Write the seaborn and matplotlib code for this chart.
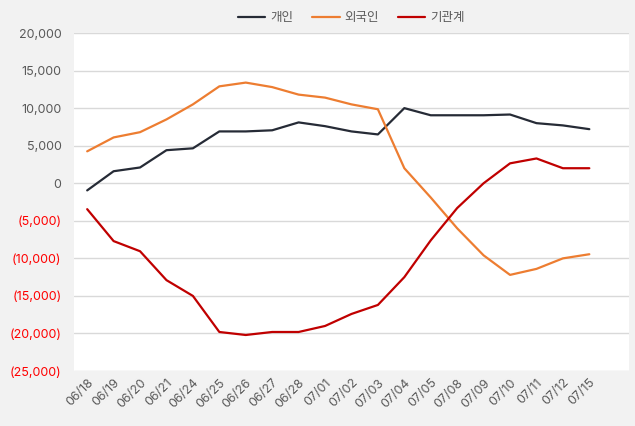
import matplotlib
matplotlib.use("Agg")
import matplotlib.pyplot as plt
import seaborn as sns
import pandas as pd
from matplotlib.ticker import FuncFormatter

dates = ["06/18", "06/19", "06/20", "06/21", "06/24", "06/25", "06/26", "06/27", "06/28",
         "07/01", "07/02", "07/03", "07/04", "07/05", "07/08", "07/09", "07/10", "07/11",
         "07/12", "07/15"]
individual = [-950, 1600, 2100, 4400, 4650, 6900, 6900, 7050, 8100, 7600, 6900, 6500,
              10000, 9050, 9050, 9050, 9150, 8000, 7700, 7200]
foreign = [4250, 6100, 6800, 8500, 10500, 12900, 13400, 12800, 11800, 11400, 10500, 9850,
           2000, -1900, -6000, -9600, -12200, -11400, -10000, -9450]
institution = [-3450, -7700, -9050, -12900, -15000, -19800, -20200, -19800, -19800, -19000,
               -17400, -16200, -12500, -7600, -3300, 0, 2650, 3300, 2000, 2000]
series_names = ["개인", "외국인", "기관계"]
colors = ["#262b36", "#ed7d31", "#c00000"]

rows = []
for name, vals in zip(series_names, [individual, foreign, institution]):
    for i, (d, v) in enumerate(zip(dates, vals)):
        rows.append({"idx": i, "date": d, "value": v, "series": name})
df = pd.DataFrame(rows)

sns.set_theme(style="white")
plt.rcParams['font.family'] = ['Inter', 'Noto Sans CJK KR', 'DejaVu Sans']

fig = plt.figure(figsize=(6.35, 4.26), dpi=100, facecolor="#f2f2f2")
ax = fig.add_axes([0.1165, 0.129, 0.874, 0.7935])
ax.set_facecolor("white")

sns.lineplot(data=df, x="idx", y="value", hue="series", hue_order=series_names,
             palette=colors, linewidth=1.6, ax=ax, legend=True)

ax.set_xlim(-0.5, 20.5)
ax.set_ylim(-25000, 20000)
ax.set_yticks(range(-25000, 20001, 5000))
ax.yaxis.set_major_formatter(FuncFormatter(
    lambda v, p: f"{int(v):,}" if v >= 0 else f"({int(-v):,})"))
ax.set_xticks(range(len(dates)))
ax.set_xticklabels(dates, rotation=45, ha="right", rotation_mode="anchor")
ax.grid(axis="y", color="#d9d9d9", linewidth=1)
ax.set_axisbelow(True)
for s in ax.spines.values():
    s.set_visible(False)
ax.tick_params(axis="both", length=0, labelsize=9, colors="#595959")
ax.tick_params(axis="y", pad=9)
ax.tick_params(axis="x", pad=4)
for lbl, v in zip(ax.get_yticklabels(), ax.get_yticks()):
    if v < 0:
        lbl.set_color("#ff0000")
ax.set_xlabel("")
ax.set_ylabel("")

leg = ax.legend(loc="lower center", bbox_to_anchor=(0.5, 1.0), ncol=3, frameon=False,
                fontsize=9, handlelength=2.2, columnspacing=1.5, handletextpad=0.4,
                borderaxespad=0.3)
for t in leg.get_texts():
    t.set_color("#595959")

fig.savefig("out.png", dpi=100, facecolor=fig.get_facecolor())
